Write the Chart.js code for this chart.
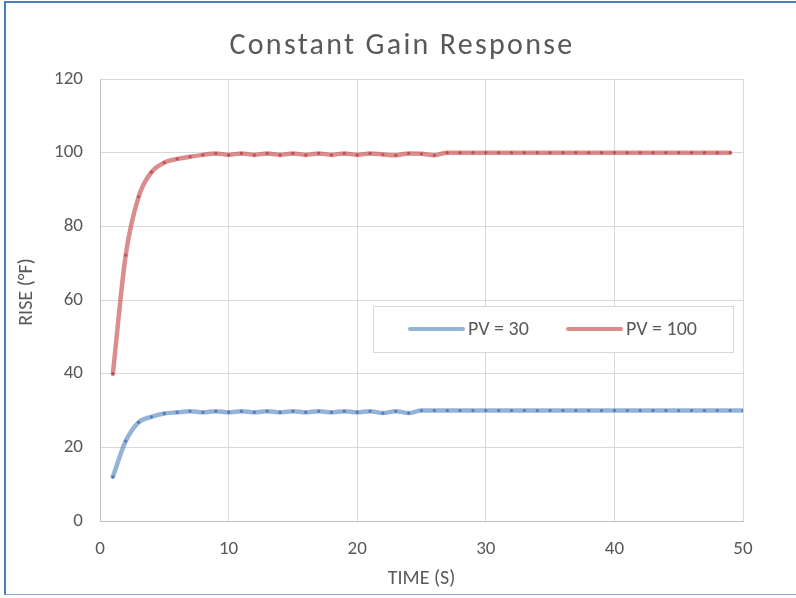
<!DOCTYPE html>
<html>
<head>
<meta charset="utf-8">
<script src="https://cdn.jsdelivr.net/npm/chart.js@4"></script>
<style>
  html, body { margin: 0; padding: 0; background: #fff; overflow: hidden; }
  #wrap { position: relative; width: 796px; height: 598px; }
  #frame {
    position: absolute; left: 4px; top: 1px; width: 820px; height: 594px;
    border-top: 2px solid #4a7ebb; border-left: 2px solid #4a7ebb;
    border-bottom: 1px solid #8eaad6; box-sizing: border-box; pointer-events: none;
  }
  canvas { position: absolute; left: 0; top: 0; }
</style>
</head>
<body>
<div id="wrap">
  <canvas id="chart" width="796" height="598"></canvas>
  <div id="frame"></div>
</div>
<script>
const FONT = 'Carlito, Calibri, Lato, sans-serif';
const TEXT = '#595959';

const labels30 = ["PV = 30"];
const labels100 = ["PV = 100"];

// time (s) for each sample
const timePV30 = [1,2,3,4,5,6,7,8,9,10,11,12,13,14,15,16,17,18,19,20,21,22,23,24,25,
  26,27,28,29,30,31,32,33,34,35,36,37,38,39,40,41,42,43,44,45,46,47,48,49,50];
const risePV30 = [12,21.7,26.8,28.3,29.2,29.5,29.8,29.5,29.8,29.5,29.8,29.5,29.8,29.5,29.8,
  29.5,29.8,29.5,29.8,29.5,29.8,29.3,29.8,29.3,30,30,30,30,30,30,30,30,30,30,30,30,30,30,30,
  30,30,30,30,30,30,30,30,30,30,30];

const timePV100 = [1,2,3,4,5,6,7,8,9,10,11,12,13,14,15,16,17,18,19,20,21,22,23,24,25,
  26,27,28,29,30,31,32,33,34,35,36,37,38,39,40,41,42,43,44,45,46,47,48,49];
const risePV100 = [40,72.2,88,94.7,97.3,98.3,98.9,99.4,99.8,99.4,99.8,99.4,99.8,99.4,99.8,
  99.4,99.8,99.4,99.8,99.4,99.8,99.5,99.3,99.8,99.7,99.3,100,100,100,100,100,100,100,100,100,
  100,100,100,100,100,100,100,100,100,100,100,100,100,100];

const xTicks = [0, 10, 20, 30, 40, 50];
const yTicks = [0, 20, 40, 60, 80, 100, 120];

const toPoints = (xs, ys) => xs.map((x, i) => ({ x, y: ys[i] }));

// titles and the boxed legend inside the plot
const decorations = {
  id: 'decorations',
  afterDraw(chart) {
    const { ctx, chartArea } = chart;
    ctx.save();
    ctx.fillStyle = TEXT;
    ctx.textAlign = 'center';
    ctx.textBaseline = 'middle';

    ctx.font = `30px ${FONT}`;
    ctx.letterSpacing = '2.3px';
    ctx.fillText('Constant Gain Response', 402, 46);
    ctx.letterSpacing = '0px';

    ctx.font = `20px ${FONT}`;
    ctx.fillText('TIME (S)', (chartArea.left + chartArea.right) / 2, 579);
    ctx.save();
    ctx.translate(27, (chartArea.top + chartArea.bottom) / 2 - 8);
    ctx.rotate(-Math.PI / 2);
    ctx.fillText('RISE (°F)', 0, 0);
    ctx.restore();

    // legend box
    const bx = 373, by = 306, bw = 360, bh = 46;
    ctx.fillStyle = '#fff';
    ctx.fillRect(bx, by, bw, bh);
    ctx.strokeStyle = '#d9d9d9';
    ctx.lineWidth = 1;
    ctx.strokeRect(bx + 0.5, by + 0.5, bw, bh);

    const items = [
      { ds: chart.data.datasets[0], x: 410 },
      { ds: chart.data.datasets[1], x: 568 }
    ];
    const ly = by + bh / 2;
    ctx.textAlign = 'left';
    items.forEach(it => {
      ctx.strokeStyle = it.ds.borderColor;
      ctx.lineWidth = 4;
      ctx.lineCap = 'round';
      ctx.beginPath();
      ctx.moveTo(it.x, ly);
      ctx.lineTo(it.x + 53, ly);
      ctx.stroke();
      ctx.fillStyle = TEXT;
      ctx.font = `20px ${FONT}`;
      ctx.fillText(it.ds.label, it.x + 58, ly + 1);
    });
    ctx.restore();
  }
};

new Chart(document.getElementById('chart'), {
  type: 'line',
  data: {
    datasets: [
      {
        label: labels30[0],
        data: toPoints(timePV30, risePV30),
        borderColor: 'rgba(79,129,189,0.6)',
        backgroundColor: 'rgba(79,129,189,0.6)',
        pointBackgroundColor: 'rgba(60,105,175,0.75)',
        pointBorderWidth: 0,
        pointRadius: 1.6,
        borderWidth: 4.5,
        cubicInterpolationMode: 'monotone',
        borderCapStyle: 'round'
      },
      {
        label: labels100[0],
        data: toPoints(timePV100, risePV100),
        borderColor: 'rgba(200,80,80,0.65)',
        backgroundColor: 'rgba(200,80,80,0.65)',
        pointBackgroundColor: 'rgba(185,60,60,0.75)',
        pointBorderWidth: 0,
        pointRadius: 1.6,
        borderWidth: 4.5,
        cubicInterpolationMode: 'monotone',
        borderCapStyle: 'round'
      }
    ]
  },
  options: {
    responsive: false,
    animation: false,
    devicePixelRatio: 1,
    layout: { padding: { top: 79, right: 53, left: 0, bottom: 0 } },
    plugins: {
      legend: { display: false },
      title: { display: false },
      tooltip: { enabled: false }
    },
    scales: {
      x: {
        type: 'linear',
        min: 0, max: 50,
        afterBuildTicks: s => { s.ticks = xTicks.map(v => ({ value: v })); },
        afterFit: s => { s.height = 598 - 521; },
        grid: { color: '#d9d9d9', lineWidth: 1, drawTicks: false },
        border: { color: '#bfbfbf', width: 1 },
        ticks: { color: TEXT, font: { family: FONT, size: 19 }, padding: 17, maxRotation: 0 }
      },
      y: {
        min: 0, max: 120,
        afterBuildTicks: s => { s.ticks = yTicks.map(v => ({ value: v })); },
        afterFit: s => { s.width = 100; },
        grid: { color: '#d9d9d9', lineWidth: 1, drawTicks: false },
        border: { color: '#bfbfbf', width: 1 },
        ticks: { color: TEXT, font: { family: FONT, size: 19 }, padding: 17 }
      }
    }
  },
  plugins: [decorations]
});
</script>
</body>
</html>
